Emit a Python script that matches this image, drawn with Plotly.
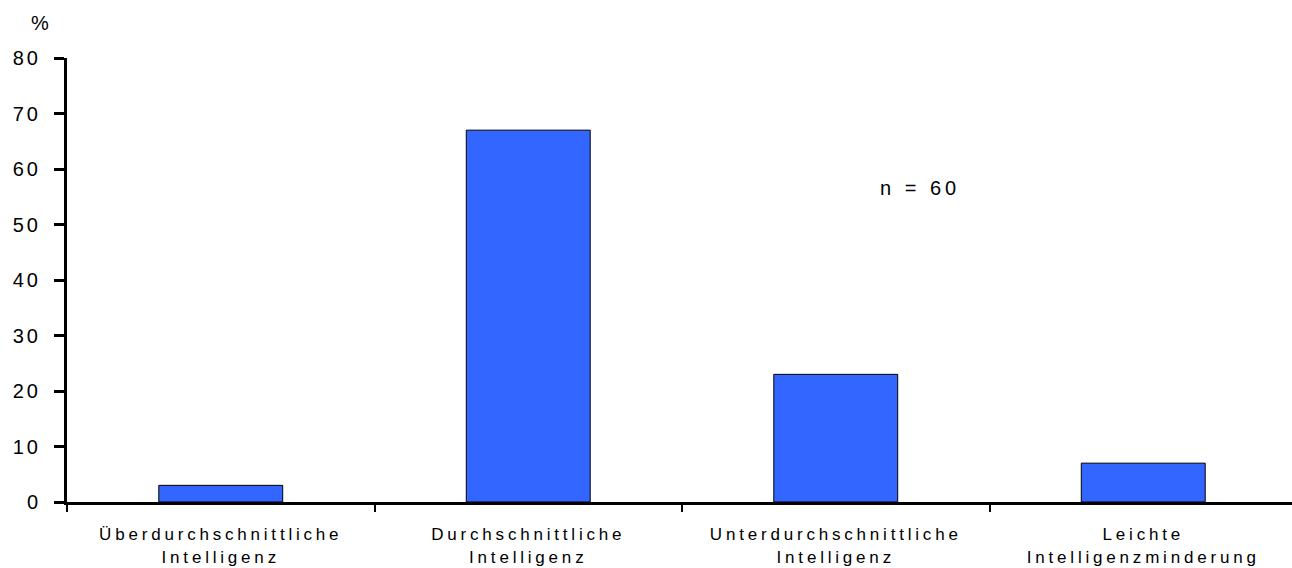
import plotly.graph_objects as go

categories = ["Überdurchschnittliche<br>Intelligenz", "Durchschnittliche<br>Intelligenz",
              "Unterdurchschnittliche<br>Intelligenz", "Leichte<br>Intelligenzminderung"]
values = [3, 67, 23, 7]
y_ticks = [0, 10, 20, 30, 40, 50, 60, 70, 80]
y_label = "%"
note = "n = 60"

fig = go.Figure(go.Bar(
    x=categories, y=values, width=0.403,
    marker=dict(color="#3366FF", line=dict(color="black", width=1)),
))

fig.update_layout(
    width=1297, height=568,
    margin=dict(l=67, r=0, t=58, b=66),
    plot_bgcolor="white", paper_bgcolor="white",
    font=dict(family="Liberation Sans, Arial, sans-serif", color="black"),
    showlegend=False,
    bargap=0,
)
fig.update_xaxes(
    range=[-0.5, 3.5], showline=True, linecolor="black", linewidth=3,
    ticks="outside", tickson="boundaries", ticklen=7, tickwidth=2, tickcolor="black",
    showgrid=False, zeroline=False, tickfont=dict(size=17), ticklabelstandoff=15,
    fixedrange=True,
)
fig.update_yaxes(
    range=[0, 80], tickvals=y_ticks, showline=True, linecolor="black", linewidth=3,
    ticks="outside", ticklen=10, tickwidth=3, tickcolor="black",
    showgrid=False, zeroline=False, tickfont=dict(size=20), ticklabelstandoff=9,
    fixedrange=True,
)
fig.add_annotation(text=y_label, xref="paper", yref="paper", x=-0.0203, y=1.079,
                   showarrow=False, font=dict(size=20), xanchor="center", yanchor="middle")
fig.add_annotation(text=note, xref="paper", yref="y", x=0.6935, y=56.6,
                   showarrow=False, font=dict(size=20), xanchor="center", yanchor="middle")

css = ("document.body.style.margin='0';document.body.style.overflow='hidden';"
       "var s=document.createElement('style');"
       "s.textContent='.xtick text{letter-spacing:3.8px} .ytick text{letter-spacing:3px} .annotation-text{letter-spacing:4px}';"
       "document.head.appendChild(s);")
fig.write_html("out.html", post_script=css, config={"displayModeBar": False, "staticPlot": True})
